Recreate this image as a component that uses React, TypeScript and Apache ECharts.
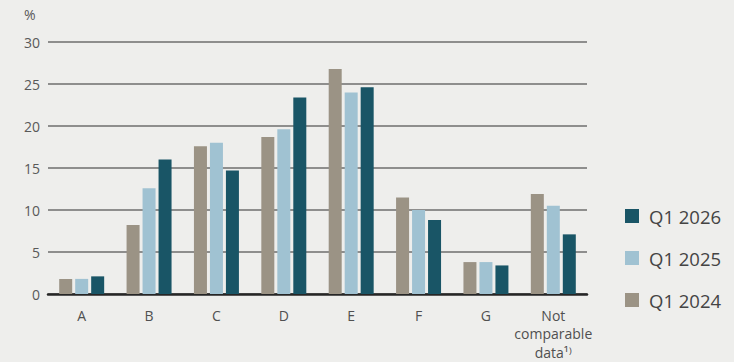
import React, { useEffect, useRef } from "react";
import * as echarts from "echarts";

const categories = ["A", "B", "C", "D", "E", "F", "G", "Not comparable data"];
const q12024 = [1.8, 8.2, 17.6, 18.7, 26.8, 11.5, 3.8, 11.9];
const q12025 = [1.8, 12.6, 18.0, 19.6, 24.0, 10.0, 3.8, 10.5];
const q12026 = [2.1, 16.0, 14.7, 23.4, 24.6, 8.8, 3.4, 7.1];
const yTicks = { min: 0, max: 30, interval: 5 };

const FONT = "'Open Sans', 'Noto Sans', sans-serif";
const C2024 = "#9b9385";
const C2025 = "#a0c2d2";
const C2026 = "#195566";

export default function App() {
  const ref = useRef<HTMLDivElement>(null);

  useEffect(() => {
    if (!ref.current) return;
    const chart = echarts.init(ref.current, null, { renderer: "svg" });
    const bar = (name: string, data: number[], color: string) => ({
      name,
      type: "bar",
      data,
      barWidth: 13,
      barGap: "23%",
      itemStyle: { color },
    });
    chart.setOption({
      animation: false,
      backgroundColor: "#eeeeec",
      textStyle: { fontFamily: FONT },
      title: {
        text: "%",
        left: 19,
        top: 2,
        textStyle: { fontSize: 14, fontWeight: "normal", color: "#595959", fontFamily: FONT },
      },
      grid: {
        left: 48,
        right: 147,
        top: 42,
        bottom: 68,
        containLabel: false,
        outerBoundsMode: "none",
      },
      legend: {
        orient: "vertical",
        left: 620,
        top: 201,
        itemWidth: 14,
        itemHeight: 14,
        itemGap: 22,
        icon: "rect",
        data: ["Q1 2026", "Q1 2025", "Q1 2024"],
        textStyle: { fontSize: 18.5, color: "#444444", fontFamily: FONT, lineHeight: 20, padding: [0, 0, 0, 5] },
      },
      xAxis: {
        type: "category",
        data: categories,
        offset: 3,
        axisLine: { show: true, lineStyle: { color: "#262626", width: 2.5 } },
        axisTick: { show: false },
        axisLabel: {
          interval: 0,
          fontSize: 14,
          color: "#505050",
          margin: 9,
          lineHeight: 18.5,
          formatter: (v: string) =>
            v === "Not comparable data" ? "Not\ncomparable\ndata\u00b9\u207e" : v,
        },
      },
      yAxis: {
        type: "value",
        min: yTicks.min,
        max: yTicks.max,
        interval: yTicks.interval,
        axisLine: { show: false },
        axisTick: { show: false },
        axisLabel: { fontSize: 14, color: "#595959", margin: 8 },
        splitLine: { lineStyle: { color: "#6e6e6e", width: 1.5 } },
      },
      series: [bar("Q1 2024", q12024, C2024), bar("Q1 2025", q12025, C2025), bar("Q1 2026", q12026, C2026)],
    });
    return () => chart.dispose();
  }, []);

  return (
    <div
      ref={ref}
      style={{ position: "fixed", left: 0, top: 0, width: 734, height: 362, background: "#eeeeec" }}
    />
  );
}
